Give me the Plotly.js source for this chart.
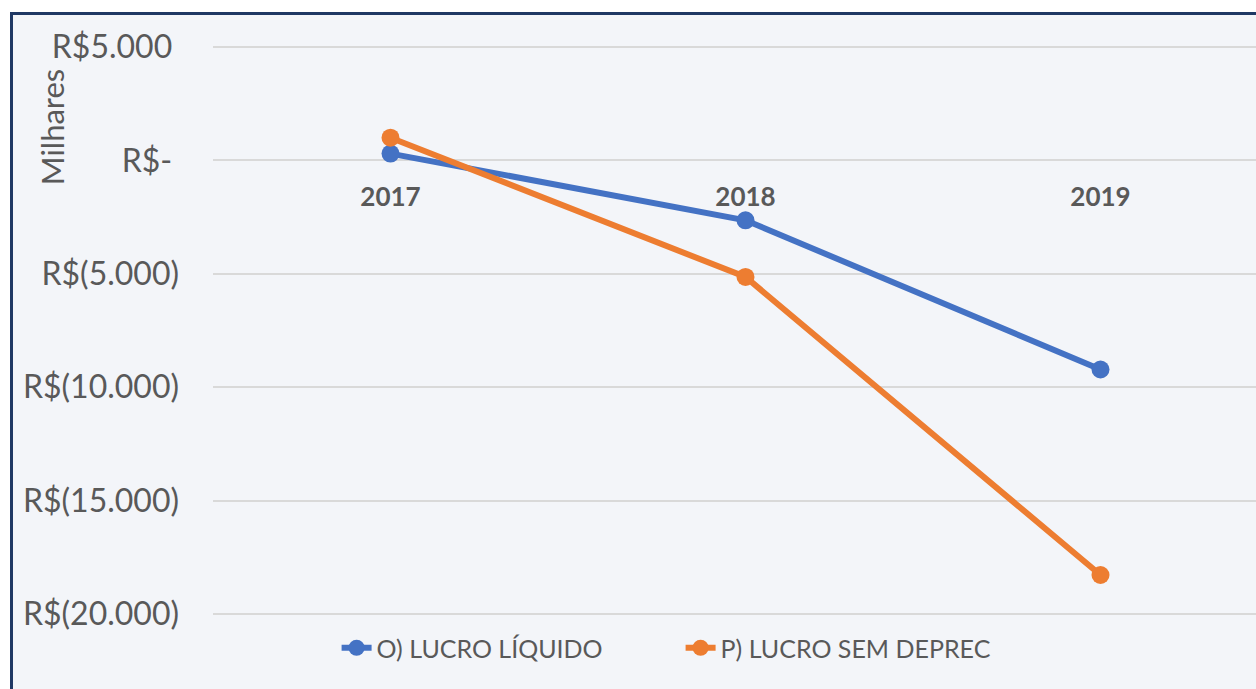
<!DOCTYPE html>
<html>
<head>
<meta charset="utf-8">
<script src="https://cdn.plot.ly/plotly-3.0.1.min.js"></script>
<style>
html,body{margin:0;padding:0;background:#ffffff;width:1256px;height:689px;overflow:hidden;}
#frame{position:absolute;left:10px;top:12px;width:1243px;height:674px;border-left:3px solid #1f3864;border-top:3px solid #1f3864;background:#f3f5f9;}
#chart{width:1243px;height:674px;}
</style>
</head>
<body>
<div id="frame"><div id="chart"></div></div>
<script>
const years = ['2017', '2018', '2019'];
const lucroLiquido = [300, -2640, -9220];
const lucroSemDeprec = [1000, -5140, -18280];
const seriesNames = ['O) LUCRO LÍQUIDO', 'P) LUCRO SEM DEPREC'];
const tickVals = [5000, 0, -5000, -10000, -15000, -20000];
// accounting format: positive values padded by the width of ")"
const tickText = ['R$5.000\u2008', 'R$-\u2008', 'R$(5.000)', 'R$(10.000)', 'R$(15.000)', 'R$(20.000)'];
const yTitle = 'Milhares';

const FONT = 'Lato, "Open Sans", sans-serif';
const GREY = '#595959';

const traces = [
  {x: years, y: lucroLiquido, name: seriesNames[0], type: 'scatter', mode: 'lines+markers',
   line: {color: '#4472c4', width: 6}, marker: {color: '#4472c4', size: 18}},
  {x: years, y: lucroSemDeprec, name: seriesNames[1], type: 'scatter', mode: 'lines+markers',
   line: {color: '#ed7d31', width: 6}, marker: {color: '#ed7d31', size: 18}}
];

const layout = {
  width: 1243, height: 674,
  margin: {l: 200, r: 0, t: 15, b: 59},
  paper_bgcolor: 'rgba(0,0,0,0)',
  plot_bgcolor: 'rgba(0,0,0,0)',
  showlegend: true,
  legend: {orientation: 'h', x: 0.1185, xanchor: 'left', y: -0.03, yanchor: 'middle',
           font: {family: FONT, size: 25, color: GREY}, bgcolor: 'rgba(0,0,0,0)',
           entrywidth: 299, entrywidthmode: 'pixels'},
  xaxis: {type: 'category', range: [-0.5, 2.438], anchor: 'free', position: 0.7833,
          showgrid: false, showline: false, ticks: '', zeroline: false,
          tickfont: {family: FONT, size: 26, color: GREY, weight: 'bold'}, ticklabelstandoff: 19},
  yaxis: {range: [-20705, 5749], tickvals: tickVals, ticktext: tickText,
          showgrid: true, gridcolor: '#d9d9d9', gridwidth: 2,
          zeroline: true, zerolinecolor: '#d9d9d9', zerolinewidth: 2,
          showline: false, ticks: '', ticklabelstandoff: 33,
          tickfont: {family: FONT, size: 32, color: GREY}},
  annotations: [{text: yTitle, xref: 'paper', yref: 'paper', x: -0.1544, y: 0.838,
                 textangle: -90, showarrow: false, xanchor: 'center', yanchor: 'middle',
                 font: {family: FONT, size: 31, color: GREY}}]
};

Plotly.newPlot('chart', traces, layout, {displayModeBar: false, staticPlot: true});
</script>
</body>
</html>
